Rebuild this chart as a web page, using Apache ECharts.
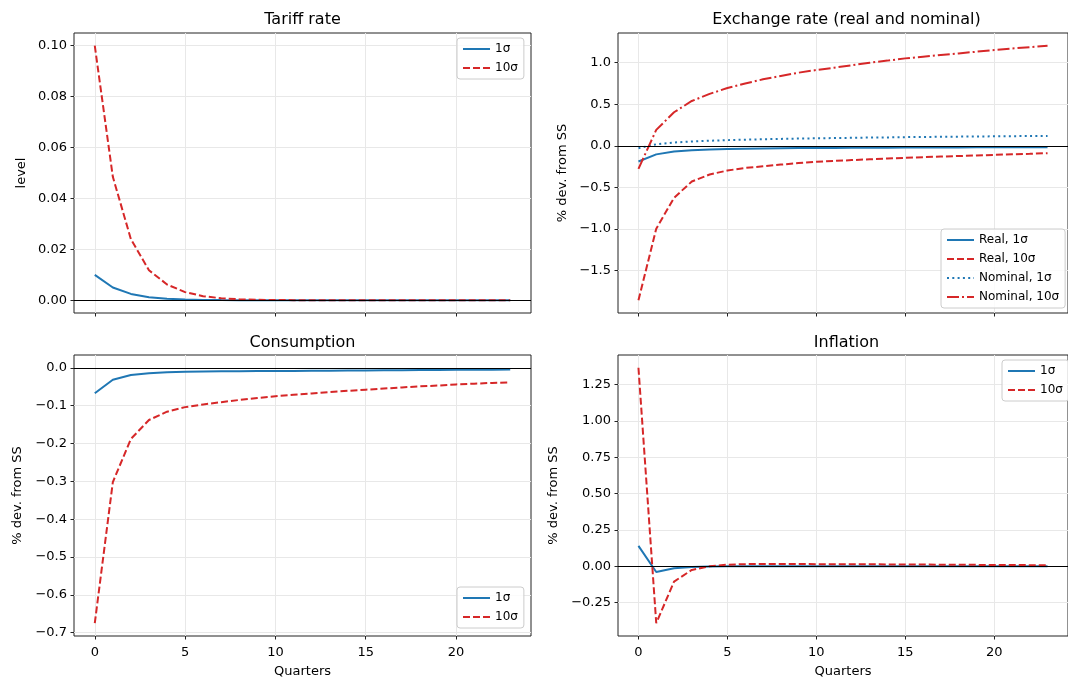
<!DOCTYPE html>
<html>
<head>
<meta charset="utf-8">
<script src="https://cdn.jsdelivr.net/npm/echarts@6/dist/echarts.min.js"></script>
<style>
html,body{margin:0;padding:0;background:#fff;}
#chart{width:1068px;height:679px;}
</style>
</head>
<body>
<div id="chart"></div>
<script>
// ---------- data ----------
const quarters = [0,1,2,3,4,5,6,7,8,9,10,11,12,13,14,15,16,17,18,19,20,21,22,23];

const tariff1  = [0.0100,0.0050,0.0025,0.0012,0.0006,0.0003,0.00015,0.00008,0.00004,0.00002,0.00001,0,0,0,0,0,0,0,0,0,0,0,0,0];
const tariff10 = [0.1000,0.0485,0.0240,0.0118,0.0062,0.0032,0.0016,0.0008,0.0004,0.0002,0.0001,0.00005,0,0,0,0,0,0,0,0,0,0,0,0];

const real1     = [-0.188,-0.102,-0.068,-0.052,-0.043,-0.037,-0.033,-0.030,-0.028,-0.026,-0.025,-0.024,-0.023,-0.022,-0.021,-0.020,-0.019,-0.019,-0.018,-0.017,-0.017,-0.016,-0.016,-0.015];
const real10    = [-1.856,-0.996,-0.624,-0.428,-0.344,-0.296,-0.265,-0.245,-0.225,-0.207,-0.192,-0.181,-0.171,-0.161,-0.152,-0.144,-0.136,-0.129,-0.122,-0.115,-0.108,-0.101,-0.095,-0.088];
const nominal1  = [-0.028,0.019,0.040,0.053,0.062,0.069,0.075,0.080,0.084,0.088,0.091,0.094,0.097,0.100,0.102,0.105,0.107,0.109,0.111,0.113,0.115,0.117,0.118,0.120];
const nominal10 = [-0.276,0.192,0.404,0.540,0.625,0.696,0.750,0.800,0.840,0.880,0.912,0.940,0.970,1.000,1.025,1.052,1.072,1.092,1.112,1.132,1.152,1.170,1.187,1.204];

const cons1  = [-0.0675,-0.0316,-0.0193,-0.0145,-0.0120,-0.0108,-0.0100,-0.0095,-0.0091,-0.0088,-0.0085,-0.0082,-0.0079,-0.0076,-0.0073,-0.0070,-0.0067,-0.0064,-0.0061,-0.0058,-0.0055,-0.0052,-0.0049,-0.0046];
const cons10 = [-0.675,-0.302,-0.188,-0.138,-0.116,-0.104,-0.097,-0.091,-0.085,-0.080,-0.075,-0.071,-0.068,-0.064,-0.061,-0.058,-0.055,-0.052,-0.049,-0.047,-0.044,-0.042,-0.040,-0.0385];

const infl1  = [0.140,-0.039,-0.014,-0.005,-0.001,0.0005,0.001,0.001,0.001,0.001,0.001,0.001,0.001,0.001,0.001,0.001,0.001,0.001,0.001,0.0008,0.0008,0.0008,0.0007,0.0007];
const infl10 = [1.364,-0.391,-0.105,-0.025,0.000,0.011,0.015,0.016,0.016,0.016,0.015,0.015,0.014,0.014,0.013,0.012,0.012,0.011,0.011,0.010,0.009,0.009,0.008,0.007];

const xTicks = [0,5,10,15,20];
const tariffTicks = [0,0.02,0.04,0.06,0.08,0.10];
const exchangeTicks = [-1.5,-1.0,-0.5,0,0.5,1.0];
const consTicks = [-0.7,-0.6,-0.5,-0.4,-0.3,-0.2,-0.1,0];
const inflTicks = [-0.25,0,0.25,0.5,0.75,1.0,1.25];

const titles = ['Tariff rate','Exchange rate (real and nominal)','Consumption','Inflation'];

// ---------- styling ----------
const BLUE = '#1f77b4', RED = '#d62728';
const FONT = 'DejaVu Sans';
const LW = 2;
const dashed = [7, 3];
const dotted = [2, 3.3];
const dashdot = [12, 3, 2, 3];

const grids = [
  {left:74,  top:33,  width:457, height:280},
  {left:618, top:33,  width:457, height:280},
  {left:74,  top:355, width:457, height:282},
  {left:618, top:355, width:457, height:282}
];

function yRange(arrs){
  let mn = 0, mx = 0;
  arrs.forEach(a => a.forEach(v => { if (v < mn) mn = v; if (v > mx) mx = v; }));
  const m = (mx - mn) * 0.05;
  return [mn - m, mx + m];
}
const xMin = quarters[0] - (quarters[quarters.length-1]-quarters[0])*0.05;
const xMax = quarters[quarters.length-1] + (quarters[quarters.length-1]-quarters[0])*0.05;

function fmt(d){
  return v => {
    const s = Math.abs(v).toFixed(d);
    return (v < 0 && Math.abs(v) > 1e-12 ? '\u2212' : '') + s;
  };
}

const gridLine = {show:true, lineStyle:{color:'#e8e8e8', width:1}};
const tickStyle = {show:true, inside:false, length:3.5, lineStyle:{color:'#222', width:1}};

function xAxis(idx, showLabels){
  return {
    type:'value', gridIndex:idx, min:xMin, max:xMax,
    axisLine:{show:false, onZero:false},
    axisTick:Object.assign({customValues:xTicks}, tickStyle),
    axisLabel:{show:showLabels, customValues:xTicks, margin:10, color:'#000', fontFamily:FONT, fontSize:13,
      formatter:v=>String(Math.round(v))},
    splitLine:gridLine,
    name: showLabels ? 'Quarters' : '',
    nameLocation:'middle', nameGap:29,
    nameTextStyle:{color:'#000', fontFamily:FONT, fontSize:13}
  };
}
function yAxis(idx, range, ticks, dec, name, gap){
  return {
    type:'value', gridIndex:idx, min:range[0], max:range[1],
    axisLine:{show:false, onZero:false},
    axisTick:Object.assign({customValues:ticks}, tickStyle),
    axisLabel:{customValues:ticks, margin:7, color:'#000', fontFamily:FONT, fontSize:13, formatter:fmt(dec)},
    splitLine:gridLine,
    name:name, nameLocation:'middle', nameGap:gap,
    nameTextStyle:{color:'#000', fontFamily:FONT, fontSize:13}
  };
}

function pts(arr){ return quarters.map((q,i)=>[q, arr[i]]); }
const zeroLine = {silent:true, symbol:['none','none'], label:{show:false}, animation:false,
  lineStyle:{color:'#000', width:1, type:'solid'}, data:[{yAxis:0}]};

function line(name, idx, arr, color, type, withZero){
  const s = {
    name:name, type:'line', xAxisIndex:idx, yAxisIndex:idx, data:pts(arr),
    symbol:'none', showSymbol:false, smooth:false,
    lineStyle:{color:color, width:LW, type:type}, itemStyle:{color:color},
    emphasis:{disabled:true}, z:3
  };
  if (withZero) s.markLine = zeroLine;
  return s;
}

function legend(names, left, top){
  return {
    orient:'vertical', left:left, top:top, data:names,
    itemWidth:27, itemHeight:12, itemGap:7, itemTextGap:10,
    padding:[5,6,5,5],
    itemStyle:{opacity:0},
    lineStyle:{width:LW},
    backgroundColor:'rgba(255,255,255,0.8)', borderColor:'#cccccc', borderWidth:1, borderRadius:3,
    textStyle:{color:'#000', fontFamily:FONT, fontSize:12, lineHeight:12},
    selectedMode:false
  };
}

const titleCenters = [
  [302.5, 12], [846.5, 12], [302.5, 335], [846.5, 335]
];

const option = {
  animation:false,
  backgroundColor:'#fff',
  title: titles.map((t,i)=>({text:t, left:titleCenters[i][0], top:titleCenters[i][1], textAlign:'center', padding:0,
    textStyle:{color:'#000', fontFamily:FONT, fontSize:16, fontWeight:'normal'}})),
  grid: grids.map(g=>Object.assign({show:true, borderColor:'#222', borderWidth:1, backgroundColor:'transparent', containLabel:false}, g)),
  xAxis:[xAxis(0,false), xAxis(1,false), xAxis(2,true), xAxis(3,true)],
  yAxis:[
    yAxis(0, yRange([tariff1,tariff10]), tariffTicks, 2, 'level', 46),
    yAxis(1, yRange([real1,real10,nominal1,nominal10]), exchangeTicks, 1, '% dev. from SS', 49),
    yAxis(2, yRange([cons1,cons10]), consTicks, 1, '% dev. from SS', 50),
    yAxis(3, yRange([infl1,infl10]), inflTicks, 2, '% dev. from SS', 58)
  ],
  legend:[
    legend(['1σ','10σ'], 457, 38),
    legend(['Real, 1σ','Real, 10σ','Nominal, 1σ','Nominal, 10σ'], 941, 229),
    legend(['1σ','10σ'], 457, 587),
    legend(['1σ','10σ'], 1002, 360)
  ],
  series:[
    line('1σ', 0, tariff1, BLUE, 'solid', true),
    line('10σ', 0, tariff10, RED, dashed, false),
    line('Real, 1σ', 1, real1, BLUE, 'solid', true),
    line('Real, 10σ', 1, real10, RED, dashed, false),
    line('Nominal, 1σ', 1, nominal1, BLUE, dotted, false),
    line('Nominal, 10σ', 1, nominal10, RED, dashdot, false),
    line('1σ', 2, cons1, BLUE, 'solid', true),
    line('10σ', 2, cons10, RED, dashed, false),
    line('1σ', 3, infl1, BLUE, 'solid', true),
    line('10σ', 3, infl10, RED, dashed, false)
  ]
};

const chart = echarts.init(document.getElementById('chart'), null, {renderer:'canvas'});
chart.setOption(option);
</script>
</body>
</html>
